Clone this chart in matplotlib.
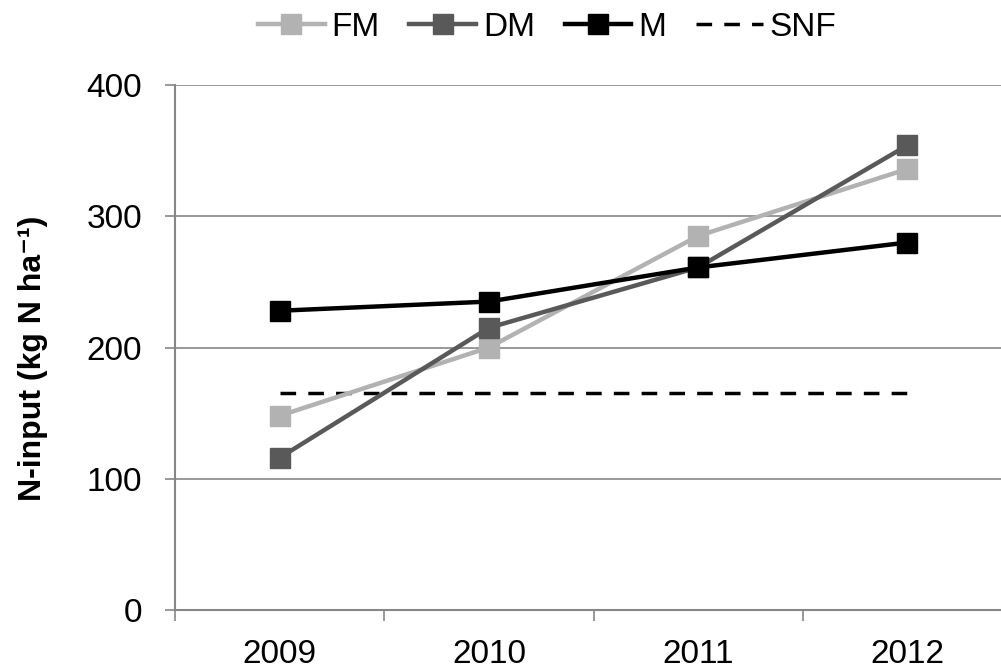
import matplotlib
matplotlib.use("Agg")
import matplotlib.pyplot as plt
from matplotlib.ticker import FixedLocator, NullFormatter

years = ["2009", "2010", "2011", "2012"]
fm = [148, 200, 285, 336]
dm = [116, 215, 261, 354]
m = [228, 235, 261, 280]
snf = [165, 165, 165, 165]
yticks = [0, 100, 200, 300, 400]

plt.rcParams['font.family'] = ['Liberation Sans', 'DejaVu Sans']

fig = plt.figure(figsize=(10.01, 6.69), dpi=100)
ax = fig.add_axes([175/1001, 1-610/669, (1012-175)/1001, (610-85)/669])

x = list(range(len(years)))
ax.plot(x, fm, color='#b2b2b2', lw=3.2, marker='s', ms=14, label='FM', zorder=3)
ax.plot(x, dm, color='#595959', lw=3.2, marker='s', ms=14, label='DM', zorder=3)
ax.plot(x, m, color='#000000', lw=3.2, marker='s', ms=14, label='M', zorder=4)
ax.plot(x, snf, color='#000000', lw=2.5, ls=(0, (4.5, 3.5)), label='SNF', zorder=2)

ax.set_xlim(-0.5, 3.5)
ax.set_ylim(0, 400)
ax.set_yticks(yticks)
ax.set_xticks(x)
ax.set_xticklabels(years)
ax.xaxis.set_minor_locator(FixedLocator([-0.5, 0.5, 1.5, 2.5, 3.5]))
ax.xaxis.set_minor_formatter(NullFormatter())
ax.tick_params(axis='x', which='major', length=0, labelsize=24, pad=21)
ax.tick_params(axis='x', which='minor', length=8, width=1.2, color='#868686')
ax.tick_params(axis='y', which='major', length=7.5, width=1.2, color='#868686', labelsize=24, pad=16)

ax.grid(axis='y', color='#868686', lw=1.2)
ax.set_axisbelow(True)
for s in ['top', 'right']:
    ax.spines[s].set_visible(False)
for s in ['left', 'bottom']:
    ax.spines[s].set_color('#868686')
    ax.spines[s].set_linewidth(1.5)

ax.set_ylabel('N-input (kg N ha\u207b\u00b9)', fontsize=23, fontweight='bold')
ax.yaxis.set_label_coords(-0.152, 0.48)

fig.legend(loc='center', bbox_to_anchor=(547/1001, 1-27/669), ncol=4, frameon=False,
           fontsize=24, handlelength=2.0, handletextpad=0.2, columnspacing=0.9,
           borderpad=0, borderaxespad=0)

fig.savefig('out.png', dpi=100)
